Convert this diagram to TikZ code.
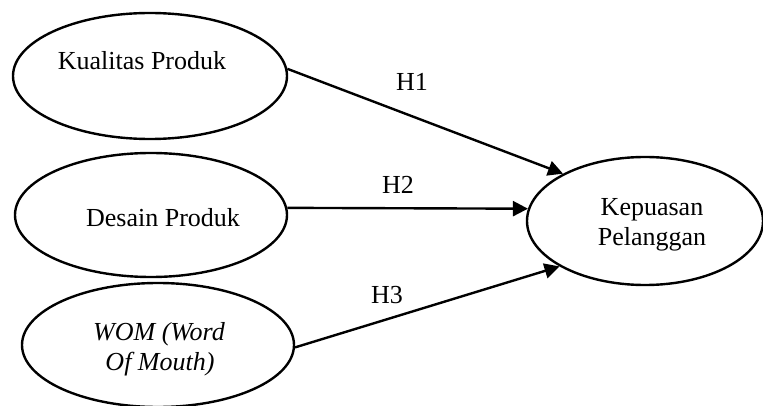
\documentclass[tikz,border=0pt]{standalone}
\usepackage{fontspec}
\setmainfont{Liberation Serif}
\usetikzlibrary{shapes.geometric,arrows.meta}
\tikzset{
  oval/.style={draw=black, ellipse, line width=2.4pt, inner sep=0pt},
  txt/.style={anchor=base, inner sep=0pt, font=\fontsize{26}{30}\selectfont},
  conn/.style={line width=2.4pt, -{Triangle[length=15pt,width=15pt]}}
}
\begin{document}
\begin{tikzpicture}[x=1pt,y=-1pt]
\useasboundingbox (0,0) rectangle (763,406);
% ellipses
\node[oval, minimum width=274pt, minimum height=126pt] (e1) at (150,76) {};
\node[oval, minimum width=272pt, minimum height=124pt] (e2) at (151,215) {};
\node[oval, minimum width=272pt, minimum height=124pt] (e3) at (158,345) {};
\node[oval, minimum width=236pt, minimum height=128pt] (e4) at (645,221) {};
% texts
\node[txt] (t1) at (142,70) {Kualitas Produk};
\node[txt] (t2) at (163,226) {Desain Produk};
\node[txt] (t3a) at (159,340) {\itshape WOM (Word};
\node[txt] (t3b) at (160,370) {\itshape Of Mouth)};
\node[txt] (t4a) at (652,215) {Kepuasan};
\node[txt] (t4b) at (652,245) {Pelanggan};
% connectors
\draw[conn] (e1.3) -- (e4.150);
\draw[conn] (e2.3) -- (e4.174);
\draw[conn] (e3.-1) -- (e4.208);
% labels
\node[txt] (h1) at (412,91) {H1};
\node[txt] (h2) at (398,194) {H2};
\node[txt] (h3) at (387,303) {H3};
\end{tikzpicture}
\end{document}
